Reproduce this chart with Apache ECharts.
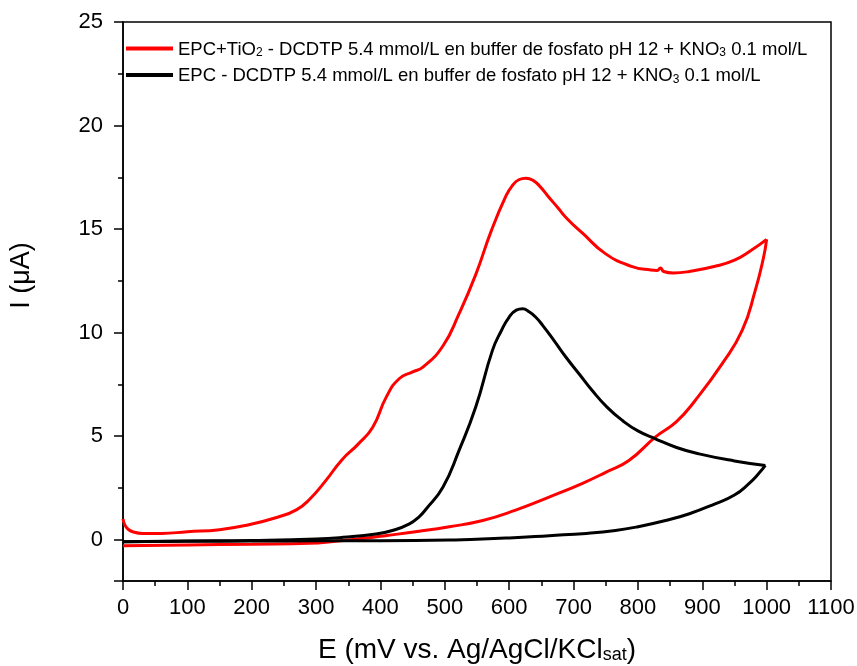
<!DOCTYPE html>
<html>
<head>
<meta charset="utf-8">
<script src="https://cdn.jsdelivr.net/npm/echarts@6/dist/echarts.min.js"></script>
<style>html,body{margin:0;padding:0;background:#fff}#c{width:857px;height:666px}</style>
</head>
<body>
<div id="c"></div>
<script>
// EPC+TiO2 (red) — E (mV) and I (µA); forward scan, then reverse scan
const redFwdE = [0,3,8,15,30,60,100,150,190,240,270,290,315,340,365,388,409,429,450,466,497,522,548,572,595,605,615,626,637,648,660,675,690,714,750,790,820,830,835,840,855,880,920,950,975,1000];
const redFwdI = [1.0,0.7,0.5,0.38,0.3,0.3,0.38,0.48,0.68,1.08,1.45,1.95,2.85,3.85,4.6,5.43,6.88,7.77,8.1,8.33,9.35,10.9,12.8,14.9,16.6,17.1,17.38,17.45,17.35,17.05,16.6,16.05,15.5,14.8,13.8,13.2,13.02,13.0,13.12,12.95,12.88,12.95,13.2,13.5,13.95,14.5];
const redRevE = [1000,995,982,962,931,889,860,827,786,750,714,662,610,559,507,460,410,370,330,290,200,100,0];
const redRevI = [14.5,13.6,12.0,10.1,8.5,6.72,5.7,4.95,3.82,3.25,2.72,2.05,1.42,0.92,0.62,0.4,0.2,0.05,-0.08,-0.18,-0.22,-0.26,-0.3];
// EPC (black)
const blackFwdE = [0,100,200,300,342,393,420,445,460,471,497,522,548,574,588,600,611,621,631,641,652,670,688,710,729,752,776,800,827,860,895,950,998];
const blackFwdI = [-0.1,-0.07,-0.04,0.03,0.11,0.27,0.45,0.76,1.1,1.48,2.53,4.3,6.4,9.14,10.1,10.75,11.08,11.15,11.0,10.75,10.35,9.6,8.82,7.95,7.2,6.4,5.75,5.25,4.87,4.45,4.14,3.8,3.58];
const blackRevE = [998,988,972,950,920,880,843,800,765,720,662,600,540,507,400,300,200,100,0];
const blackRevI = [3.58,3.2,2.69,2.15,1.73,1.25,0.92,0.62,0.44,0.3,0.19,0.08,0.0,-0.02,-0.05,-0.06,-0.07,-0.08,-0.1];
const xTicks = {min: 0, max: 1100, interval: 100};
const yRange = {min: -2, max: 25};
const seriesNames = ['red', 'black'];
const legendTexts = {
  red: '{n|EPC+TiO}{s|2}{n| - DCDTP 5.4 mmol/L en buffer de fosfato pH 12 + KNO}{s|3}{n| 0.1 mol/L}',
  black: '{n|EPC - DCDTP 5.4 mmol/L en buffer de fosfato pH 12 + KNO}{s|3}{n| 0.1 mol/L}'
};

const zip = (a, b) => a.map((v, i) => [v, b[i]]);
const FONT = 'Liberation Sans, Arial, sans-serif';
const COLORS = {red: '#ff0000', black: '#000000'};
function seg(name, E, I) {
  return {name, type: 'line', data: zip(E, I), showSymbol: false, smooth: 0.5,
    lineStyle: {color: COLORS[name], width: 3}, itemStyle: {color: COLORS[name]}, z: name === 'black' ? 4 : 3};
}
const chart = echarts.init(document.getElementById('c'), null, {renderer: 'canvas'});
chart.setOption({
  animation: false,
  backgroundColor: '#fff',
  grid: {left: 123, right: 26, top: 22, bottom: 85, show: true, borderColor: '#000', borderWidth: 1.5,
    backgroundColor: 'transparent', containLabel: false, outerBoundsMode: 'none'},
  legend: {
    orient: 'vertical', left: 126, top: 40, padding: 0, itemGap: 7.5, itemWidth: 47, itemHeight: 4, icon: 'rect',
    data: seriesNames,
    formatter: name => legendTexts[name],
    textStyle: {
      fontFamily: FONT, fontSize: 18.5, color: '#000',
      rich: {
        n: {fontFamily: FONT, fontSize: 18.5, color: '#000', lineHeight: 21, verticalAlign: 'bottom'},
        s: {fontFamily: FONT, fontSize: 12, color: '#000', lineHeight: 8, verticalAlign: 'bottom'}
      }
    }
  },
  xAxis: {
    type: 'value', min: xTicks.min, max: xTicks.max, interval: xTicks.interval,
    name: '{n|E (mV vs. Ag/AgCl/KCl}{s|sat}{n|)}',
    nameLocation: 'middle', nameGap: 53,
    nameTextStyle: {fontFamily: FONT, fontSize: 28, color: '#000',
      rich: {n: {fontFamily: FONT, fontSize: 28, color: '#000', lineHeight: 30, verticalAlign: 'bottom'},
             s: {fontFamily: FONT, fontSize: 18, color: '#000', lineHeight: 10, verticalAlign: 'bottom'}}},
    axisLine: {show: true, onZero: false, lineStyle: {color: '#000', width: 1.5}},
    axisTick: {show: true, inside: false, length: 9, lineStyle: {color: '#000', width: 1.5}},
    minorTick: {show: true, splitNumber: 2, length: 5, lineStyle: {color: '#000', width: 1.5}},
    axisLabel: {fontFamily: FONT, fontSize: 22, color: '#000', margin: 16, formatter: v => String(v)},
    splitLine: {show: false}
  },
  yAxis: {
    type: 'value', min: yRange.min, max: yRange.max, splitNumber: 5,
    name: 'I (μA)', nameLocation: 'middle', nameRotate: 90, nameGap: 88,
    nameTextStyle: {fontFamily: FONT, fontSize: 27, color: '#000', padding: [0, 0, 0, 52]},
    axisLine: {show: true, onZero: false, lineStyle: {color: '#000', width: 1.5}},
    axisTick: {show: true, inside: false, length: 9, lineStyle: {color: '#000', width: 1.5}},
    minorTick: {show: true, splitNumber: 2, length: 5, lineStyle: {color: '#000', width: 1.5}},
    axisLabel: {fontFamily: FONT, fontSize: 22, color: '#000', margin: 20,
      formatter: v => (v === yRange.min ? '' : String(v))},
    splitLine: {show: false}
  },
  series: [
    seg('red', redFwdE, redFwdI),
    seg('red', redRevE, redRevI),
    seg('black', blackFwdE, blackFwdI),
    seg('black', blackRevE, blackRevI)
  ]
});
</script>
</body>
</html>
